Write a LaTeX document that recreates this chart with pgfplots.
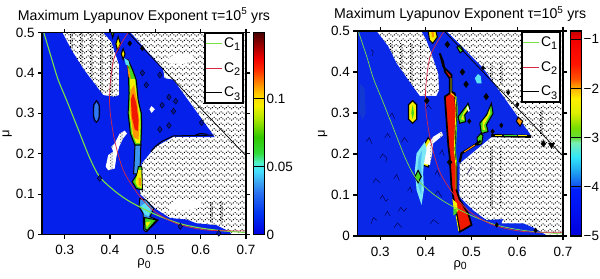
\documentclass[border=0pt]{standalone}
\usepackage{fontspec}
\setmainfont{Liberation Sans}
\usepackage{pgfplots}
\pgfplotsset{compat=1.18}
\usetikzlibrary{patterns}
\pgfdeclarepatternformonly{chev}{\pgfqpoint{-1bp}{-1bp}}{\pgfqpoint{8bp}{7bp}}{\pgfqpoint{7bp}{5.6bp}}{%
  \pgfpathrectangle{\pgfqpoint{0bp}{0.5bp}}{\pgfqpoint{1bp}{1bp}}
  \pgfpathrectangle{\pgfqpoint{1.75bp}{1.9bp}}{\pgfqpoint{1bp}{1bp}}
  \pgfpathrectangle{\pgfqpoint{3.5bp}{3.3bp}}{\pgfqpoint{1bp}{1bp}}
  \pgfpathrectangle{\pgfqpoint{5.25bp}{1.9bp}}{\pgfqpoint{1bp}{1bp}}
  \pgfusepath{fill}}
\pgfdeclarepatternformonly{vst}{\pgfqpoint{-1bp}{-1bp}}{\pgfqpoint{11bp}{4bp}}{\pgfqpoint{10bp}{3bp}}{%
  \pgfpathrectangle{\pgfqpoint{0bp}{0bp}}{\pgfqpoint{1.1bp}{1.1bp}}
  \pgfpathrectangle{\pgfqpoint{1.6bp}{1.5bp}}{\pgfqpoint{1.1bp}{1.1bp}}
  \pgfusepath{fill}}
\definecolor{bl}{RGB}{5,32,235}
\definecolor{br}{RGB}{10,40,232}
\definecolor{cone}{RGB}{120,225,70}
\definecolor{ctwo}{RGB}{215,40,70}
\definecolor{gr}{RGB}{70,215,30}
\definecolor{ye}{RGB}{245,240,0}
\definecolor{orn}{RGB}{255,150,0}
\definecolor{rd}{RGB}{240,25,0}
\definecolor{cy}{RGB}{90,225,245}
\definecolor{lb}{RGB}{60,150,240}
\pgfplotsset{
  panel/.style={
    scale only axis, axis on top, clip=true,
    xmin=0.25,xmax=0.7,ymin=0,ymax=0.5,
    xtick={0.3,0.4,0.5,0.6,0.7}, xticklabels={0.3,0.4,0.5,0.6,0.7},
    ytick={0,0.1,0.2,0.3,0.4,0.5}, yticklabels={0,0.1,0.2,0.3,0.4,0.5},
    tick align=outside, major tick length=4bp,
    every tick/.style={black,line width=1.2bp},
    axis line style={line width=1.4bp},
    tick label style={font=\fontsize{13.5}{13.5}\selectfont},
    xticklabel style={yshift=-3.5bp}, yticklabel style={xshift=0bp},
    label style={font=\fontsize{13}{13}\selectfont},
    xlabel={ρ\raisebox{-2.5bp}{\fontsize{10.5}{10.5}\selectfont 0}},
    ylabel={μ},
    ylabel shift=-3bp,
    xlabel style={yshift=3bp},
    title style={font=\fontsize{14.2}{14.5}\selectfont,yshift=0bp},
    legend cell align=left,
    legend style={font=\fontsize{14}{14}\selectfont, line width=1.9bp, draw=black, fill=white,
      row sep=9.4bp, inner xsep=.5bp, inner ysep=2.5bp,
      cells={line width=.4bp}, anchor=north east},
    legend image code/.code={\draw[#1] (-.08cm,0) -- (.47cm,0);},
  },
  reg/.style={forget plot,draw=none},
  contour/.style={forget plot,draw=black,line width=1bp},
  squig/.style={forget plot,draw=black!70!blue,line width=.45bp},
  dia/.style={forget plot,only marks,mark=diamond*,mark size=#1,draw=black,fill=black,mark options={draw=black}},
}
\begin{document}
\begin{tikzpicture}[x=1bp,y=1bp]
\path[use as bounding box] (0,0) rectangle (600,278);
% ================= LEFT
\begin{axis}[panel, at={(42bp,43.5bp)}, anchor=south west, width=204bp, height=202bp,
  title={Maximum Lyapunov Exponent τ=10\textsuperscript{5} yrs},
  legend style={at={(0.985,0.9975)}},
  colormap={lyl}{rgb255(0pt)=(0,0,225); rgb255(15pt)=(0,50,240); rgb255(30pt)=(40,110,240); rgb255(38pt)=(60,160,240); rgb255(47pt)=(70,225,255); rgb255(53pt)=(80,240,200); rgb255(60pt)=(50,220,60); rgb255(72pt)=(50,200,0); rgb255(85pt)=(170,230,0); rgb255(95pt)=(245,240,0); rgb255(102pt)=(255,215,0); rgb255(110pt)=(255,150,0); rgb255(122pt)=(255,40,0); rgb255(130pt)=(240,0,0); rgb255(140pt)=(150,0,0); rgb255(149pt)=(70,0,0)},
  point meta min=0, point meta max=0.149,
  colorbar,
  colorbar style={at={(1.0377,0)},anchor=south west,width=11bp,
    ymin=0,ymax=0.149,ytick={0,0.05,0.1},yticklabels={0,0.05,0.1},
    tick align=inside,major tick length=11bp,
    ytick pos=right, yticklabel pos=right,
    every tick/.style={black,line width=1bp},
    axis line style={line width=1.1bp},
    tick label style={font=\fontsize{13.5}{13.5}\selectfont},
    yticklabel style={xshift=-1.5bp}},
]
\addplot[reg,pattern=chev,pattern color=black] coordinates {(.25,0)(.25,.5)(.7,.5)(.7,0)} -- cycle;
% stripes and clear patches in the regular zones
\addplot[reg,pattern=vst,pattern color=black] coordinates {(.29,.34)(.29,.5)(.42,.5)(.42,.34)} -- cycle;
\addplot[reg,fill=white] coordinates {(.528,.435)(.545,.447)(.583,.443)(.585,.43)(.56,.422)(.53,.424)} -- cycle;
\addplot[reg,fill=white] coordinates {(.525,.07)(.55,.086)(.6,.084)(.603,.068)(.57,.06)(.53,.062)} -- cycle;
\addplot[reg,pattern=vst,pattern color=black] coordinates {(.61,.03)(.61,.08)(.665,.08)(.665,.03)} -- cycle;
% blue domain
\addplot[reg,fill=bl] coordinates {(.25,0)(.25,.5)(.295,.5)(.315,.457)(.34,.412)(.385,.345)(.41,.341)(.42,.345)(.42,.38)(.42,.42)(.403,.477)(.385,.5)(.445,.5)(.517,.41)(.52,.387)(.54,.383)(.628,.246)(.631,.241)(.54,.242)(.5,.217)(.47,.176)(.466,.1)(.5,.064)(.532,.041)(.569,.037)(.59,.028)(.635,.023)(.664,.007)(.668,0)} -- cycle;
% white hole
\addplot[reg,fill=white,postaction={pattern=vst,pattern color=black!50}] coordinates {(.4325,.257)(.4215,.25)(.4105,.2255)(.403,.217)(.407,.205)(.396,.1966)(.3906,.168)(.396,.159)(.4105,.1635)(.414,.192)(.42,.217)(.429,.238)(.4375,.25)} -- cycle;
\addplot[reg,fill=white] coordinates {(.487,.31)(.4915,.318)(.499,.31)(.4915,.301)} -- cycle;
% contours on the domain edge
\addplot[contour] coordinates {(.49,.205)(.5,.218)(.515,.231)(.54,.244)(.628,.246)};
\addplot[contour] coordinates {(.59,.247)(.6,.25)(.615,.248)};
% small features
\addplot[dia=2.6bp] coordinates {(.4715,.461)(.4436,.473)};
\addplot[dia=3bp,mark options={fill=bl!70!black}] coordinates {(.4715,.40)(.48,.37)(.602,.277)(.377,.139)(.51,.395)(.53,.34)(.515,.32)(.54,.305)(.545,.33)(.51,.26)(.53,.27)(.555,.02)(.64,.003)};
% oval
\addplot[forget plot,smooth,draw=black!85!blue,line width=1.3bp,fill=lb!80!blue] coordinates {(.37,.331)(.376,.32)(.376,.29)(.37,.278)(.364,.29)(.364,.32)} -- cycle;
% streak, upper part
\addplot[contour,fill=gr] coordinates {(.435,.433)(.44,.411)(.441,.382)(.442,.349)(.44,.30)(.445,.25)(.455,.221)(.468,.221)(.47,.275)(.469,.30)(.462,.333)(.458,.382)(.45,.407)(.44,.432)} -- cycle;
\addplot[reg,fill=ye] coordinates {(.444,.385)(.445,.349)(.443,.30)(.449,.25)(.458,.226)(.466,.226)(.467,.275)(.466,.30)(.46,.335)(.455,.385)} -- cycle;
\addplot[reg,fill=orn] coordinates {(.445,.355)(.445,.30)(.452,.24)(.463,.235)(.465,.28)(.46,.33)(.453,.37)} -- cycle;
\addplot[reg,fill=rd] coordinates {(.446,.335)(.448,.292)(.4546,.26)(.4615,.256)(.463,.283)(.458,.325)(.451,.35)} -- cycle;
\addplot[reg,fill=orn] coordinates {(.438,.42)(.443,.405)(.446,.385)(.441,.39)} -- cycle;
\addplot[reg,fill=cy] coordinates {(.431,.437)(.441,.43)(.443,.417)(.435,.42)} -- cycle;
% streak, narrow and lower parts
\addplot[contour,fill=lb] coordinates {(.455,.221)(.453,.168)(.452,.15)(.46,.15)(.4665,.168)(.468,.221)} -- cycle;
\addplot[contour,fill=gr] coordinates {(.4625,.168)(.46,.15)(.449,.131)(.458,.114)(.4715,.11)(.47,.168)} -- cycle;
\addplot[reg,fill=ye] coordinates {(.4625,.16)(.456,.13)(.461,.118)(.47,.115)(.469,.16)} -- cycle;
\addplot[reg,fill=orn] coordinates {(.463,.14)(.468,.14)(.468,.12)(.463,.122)} -- cycle;
\addplot[contour,fill=ye] coordinates {(.429,.46)(.433,.447)(.429,.433)(.425,.447)} -- cycle;
\addplot[contour,fill=ye] coordinates {(.418,.49)(.423,.472)(.417,.455)(.413,.472)} -- cycle;
\addplot[contour,fill=gr] coordinates {(.403,.5)(.409,.5)(.406,.487)} -- cycle;
% bottom triangle
\addplot[contour,fill=lb] coordinates {(.4656,.089)(.48,.085)(.4966,.064)(.488,.044)(.506,.0355)(.48,.0066)(.4745,.011)(.473,.052)(.464,.0686)} -- cycle;
\addplot[reg,fill=cy] coordinates {(.468,.07)(.48,.08)(.49,.062)(.485,.045)(.476,.05)} -- cycle;
\addplot[contour,fill=gr] coordinates {(.476,.042)(.503,.036)(.482,.01)(.477,.014)} -- cycle;
\addplot[reg,fill=ye] coordinates {(.479,.03)(.49,.032)(.481,.017)} -- cycle;
% curves
\addplot[cone,line width=1.1bp,smooth] coordinates {(.254,.5)(.27,.44)(.285,.385)(.304,.333)(.33,.26)(.355,.19)(.377,.143)(.41,.108)(.44,.084)(.473,.064)(.51,.045)(.554,.027)(.6,.016)(.65,.009)(.7,.005)};
\addlegendentry{C\raisebox{-3.5bp}{\fontsize{11}{11}\selectfont 1}}
\addplot[ctwo,line width=.7bp,smooth] coordinates {(.44,.5)(.41,.44)(.40,.366)(.40,.308)(.41,.234)(.429,.16)(.458,.106)(.495,.06)(.547,.027)(.613,.011)(.7,.009)};
\addlegendentry{C\raisebox{-3.5bp}{\fontsize{11}{11}\selectfont 2}}
\addplot[black,line width=.7bp] coordinates {(.44,.5)(.7,.195)};
\addlegendentry{C\raisebox{-3.5bp}{\fontsize{11}{11}\selectfont 3}}
\end{axis}
% ================= RIGHT
\begin{axis}[panel, at={(357.3bp,42bp)}, anchor=south west, width=205.7bp, height=205bp,
  title={Maximum Lyapunov Exponent τ=10\textsuperscript{5} yrs},
  legend style={at={(0.985,0.995)}},
  colormap={lyr}{rgb255(0pt)=(0,0,220); rgb255(95pt)=(0,30,255); rgb255(105pt)=(20,90,240); rgb255(130pt)=(30,160,240); rgb255(160pt)=(50,230,250); rgb255(190pt)=(120,240,180); rgb255(200pt)=(100,220,60); rgb255(220pt)=(120,220,0); rgb255(250pt)=(220,240,0); rgb255(280pt)=(255,240,0); rgb255(300pt)=(255,180,0); rgb255(320pt)=(255,80,0); rgb255(350pt)=(255,20,0); rgb255(400pt)=(240,0,0); rgb255(417pt)=(200,0,0)},
  point meta min=-5, point meta max=-0.83,
  colorbar,
  colorbar style={at={(1.0374,0)},anchor=south west,width=11bp,
    ymin=-5,ymax=-0.83,ytick={-5,-4,-3,-2,-1},yticklabels={−5,−4,−3,−2,−1},
    tick align=inside,major tick length=11bp,
    ytick pos=right, yticklabel pos=right,
    every tick/.style={black,line width=1bp},
    axis line style={line width=1.1bp},
    tick label style={font=\fontsize{13.5}{13.5}\selectfont},
    yticklabel style={xshift=-1.5bp}},
]
\addplot[reg,pattern=chev,pattern color=black] coordinates {(.25,0)(.25,.5)(.7,.5)(.7,0)} -- cycle;
\addplot[reg,pattern=vst,pattern color=black] coordinates {(.536,.07)(.536,.218)(.565,.218)(.565,.07)} -- cycle;
\addplot[reg,pattern=vst,pattern color=black] coordinates {(.536,.37)(.536,.42)(.57,.42)(.57,.37)} -- cycle;
\addplot[reg,pattern=vst,pattern color=black] coordinates {(.642,.25)(.642,.307)(.671,.307)(.671,.25)} -- cycle;
\addplot[reg,pattern=vst,pattern color=black] coordinates {(.3,.37)(.3,.47)(.39,.47)(.39,.37)} -- cycle;
% blue domain
\addplot[reg,fill=br] coordinates {(.25,0)(.25,.5)(.292,.5)(.318,.462)(.336,.421)(.372,.364)(.387,.341)(.423,.341)(.429,.356)(.427,.397)(.412,.446)(.401,.478)(.39,.5)(.445,.5)(.525,.41)(.627,.25)(.631,.241)(.543,.241)(.474,.177)(.473,.096)(.503,.063)(.532,.039)(.569,.041)(.565,.031)(.613,.031)(.634,.021)(.667,0)} -- cycle;
\addplot[reg,fill=cyan!30!blue,opacity=.35] coordinates {(.256,.372)(.266,.36)(.268,.3)(.262,.283)(.255,.3)} -- cycle;
% faint contours
\addplot[squig] coordinates {(.28,.455)(.285,.45)(.283,.44)};
\addplot[squig] coordinates {(.3,.19)(.305,.2)(.315,.19)(.312,.18)};
\addplot[squig] coordinates {(.3,.09)(.305,.1)(.312,.085)(.318,.09)};
\addplot[squig] coordinates {(.34,.06)(.345,.07)(.352,.06)(.358,.068)};
\addplot[squig] coordinates {(.32,.29)(.326,.3)(.332,.285)};
\addplot[squig] coordinates {(.285,.13)(.29,.14)(.3,.13)};
\addplot[squig] coordinates {(.36,.23)(.353,.24)(.346,.228)};
\addplot[squig] coordinates {(.42,.1)(.426,.11)(.435,.095)};
\addplot[squig] coordinates {(.41,.03)(.416,.04)(.428,.03)};
\addplot[squig] coordinates {(.33,.02)(.338,.032)(.348,.02)};
\addplot[squig] coordinates {(.28,.03)(.285,.045)(.293,.038)};
\addplot[squig] coordinates {(.4,.31)(.405,.32)(.412,.31)};
\addplot[squig] coordinates {(.49,.15)(.495,.16)(.5,.17)};
\addplot[squig] coordinates {(.31,.24)(.316,.25)(.322,.24)};
\addplot[squig] coordinates {(.27,.23)(.276,.24)(.282,.225)};
\addplot[squig] coordinates {(.33,.14)(.336,.15)(.342,.135)};
\addplot[squig] coordinates {(.31,.05)(.316,.06)(.322,.048)};
\addplot[squig] coordinates {(.36,.11)(.366,.12)(.37,.105)};
\addplot[squig] coordinates {(.43,.2)(.436,.21)(.44,.195)};
\addplot[squig] coordinates {(.42,.15)(.425,.16)(.43,.145)};
% diamonds
\addplot[dia=3.2bp] coordinates {(.447,.467)(.48,.4)(.488,.37)(.532,.34)(.402,.33)(.657,.225)(.452,.18)};
\addplot[dia=2.3bp] coordinates {(.525,.41)(.58,.35)(.6,.32)(.495,.28)(.565,.27)(.546,.255)(.555,.027)(.64,.014)};
\addplot[forget plot,only marks,mark=triangle*,mark size=3.6bp,draw=black,fill=black,mark options={rotate=180}] coordinates {(.675,.222)};
% white hole
\addplot[contour,fill=ye] coordinates {(.405,.24)(.39,.21)(.39,.175)(.405,.168)(.412,.2)(.412,.23)} -- cycle;
\addplot[reg,fill=white,postaction={pattern=vst,pattern color=black!40}] coordinates {(.434,.2545)(.416,.242)(.4014,.218)(.3956,.177)(.4087,.173)(.4138,.2016)(.416,.226)(.4378,.246)} -- cycle;
% crescent
\addplot[forget plot,draw=none,fill=cy!80!white] coordinates {(.3978,.23)(.3796,.2016)(.376,.161)(.3796,.112)(.3905,.0756)(.3956,.112)(.394,.153)(.3956,.177)(.4014,.21)} -- cycle;
\addplot[reg,fill=cy!85!blue] coordinates {(.392,.21)(.384,.19)(.381,.16)(.384,.12)(.39,.1)(.391,.15)(.389,.18)} -- cycle;
\addplot[contour,fill=gr] coordinates {(.376,.145)(.383,.16)(.39,.145)(.383,.13)} -- cycle;
% yellow oval
\addplot[forget plot,draw=black,line width=1.2bp,fill=ye] coordinates {(.371,.33)(.38,.32)(.38,.285)(.371,.275)(.362,.285)(.362,.32)} -- cycle;
\addplot[reg,fill=gr] coordinates {(.371,.32)(.374,.3)(.371,.285)(.368,.3)} -- cycle;
% streak
\addplot[forget plot,draw=black,line width=1.7bp,fill=rd] coordinates {(.4305,.4455)(.438,.425)(.4415,.401)(.452,.3845)(.452,.348)(.4415,.34)(.449,.222)(.452,.1935)(.456,.12)(.461,.088)(.467,.055)(.474,.0106)(.4815,.0146)(.5,.027)(.4925,.055)(.474,.088)(.467,.112)(.467,.169)(.463,.21)(.467,.307)(.463,.348)(.456,.352)(.456,.393)(.438,.413)(.4305,.4455)} -- cycle;
\addplot[forget plot,draw=ye,line width=.8bp] coordinates {(.455,.385)(.455,.348)(.464,.34)(.466,.31)(.462,.21)(.466,.17)(.466,.114)};
\addplot[forget plot,draw=gr,line width=.7bp] coordinates {(.467,.34)(.469,.31)(.465,.21)(.468,.17)};
\addplot[reg,fill=ye] coordinates {(.458,.09)(.468,.08)(.47,.06)(.462,.058)} -- cycle;
\addplot[reg,fill=gr] coordinates {(.46,.066)(.467,.066)(.467,.055)(.46,.05)} -- cycle;
\addplot[forget plot,draw=ye,line width=.8bp] coordinates {(.472,.012)(.466,.05)};
% blobs
\addplot[contour,fill=gr] coordinates {(.4815,.307)(.4925,.3236)(.496,.311)(.485,.295)(.487,.279)(.474,.275)(.4705,.291)} -- cycle;
\addplot[reg,fill=ye] coordinates {(.482,.3)(.49,.314)(.492,.31)(.482,.295)(.483,.283)(.477,.285)} -- cycle;
\addplot[reg,fill=white] coordinates {(.492,.318)(.496,.305)(.493,.303)(.489,.313)} -- cycle;
\addplot[contour,fill=gr] coordinates {(.5434,.3236)(.547,.299)(.5325,.271)(.536,.2545)(.5215,.25)(.518,.275)(.5325,.295)} -- cycle;
\addplot[reg,fill=ye] coordinates {(.54,.31)(.541,.299)(.527,.27)(.53,.258)(.524,.26)(.524,.28)(.535,.295)} -- cycle;
\addplot[contour,fill=gr] coordinates {(.512,.24)(.52,.25)(.525,.245)(.522,.225)(.513,.222)} -- cycle;
\addplot[reg,fill=cy] coordinates {(.514,.395)(.52,.39)(.522,.372)(.512,.372)(.507,.385)} -- cycle;
\addplot[contour,fill=gr] coordinates {(.468,.46)(.475,.465)(.482,.452)(.475,.447)} -- cycle;
\addplot[contour,fill=ye] coordinates {(.405,.5)(.422,.5)(.425,.485)(.415,.47)(.408,.478)} -- cycle;
\addplot[reg,fill=orn] coordinates {(.412,.5)(.417,.5)(.418,.485)(.413,.485)} -- cycle;
\addplot[contour,fill=orn] coordinates {(.602,.29)(.612,.28)(.606,.268)(.598,.28)} -- cycle;
% edge strip
\addplot[forget plot,draw=black,line width=3bp] coordinates {(.543,.245)(.63,.243)};
\addplot[forget plot,draw=ye,line width=1.1bp] coordinates {(.552,.245)(.567,.245)};
\addplot[forget plot,draw=gr,line width=1.1bp] coordinates {(.57,.245)(.6,.245)};
\addplot[forget plot,draw=ye,line width=1.1bp] coordinates {(.602,.245)(.622,.245)};
\addplot[forget plot,draw=black,line width=2.2bp] coordinates {(.474,.18)(.478,.2016)(.507,.222)(.52,.232)};
\addplot[forget plot,draw=orn,line width=1bp] coordinates {(.484,.205)(.507,.222)};
% curves
\addplot[cone,line width=.7bp,smooth] coordinates {(.252,.5)(.27,.44)(.285,.385)(.304,.333)(.33,.26)(.355,.19)(.377,.143)(.41,.108)(.44,.084)(.473,.064)(.51,.045)(.554,.027)(.6,.016)(.65,.009)(.7,.005)};
\addlegendentry{C\raisebox{-3.5bp}{\fontsize{11}{11}\selectfont 1}}
\addplot[ctwo,line width=.7bp,smooth] coordinates {(.44,.5)(.41,.44)(.40,.366)(.40,.308)(.41,.234)(.429,.16)(.458,.106)(.495,.06)(.547,.027)(.613,.011)(.7,.009)};
\addlegendentry{C\raisebox{-3.5bp}{\fontsize{11}{11}\selectfont 2}}
\addplot[black,line width=.7bp] coordinates {(.44,.5)(.7,.195)};
\addlegendentry{C\raisebox{-3.5bp}{\fontsize{11}{11}\selectfont 3}}
\end{axis}
\end{tikzpicture}
\end{document}
